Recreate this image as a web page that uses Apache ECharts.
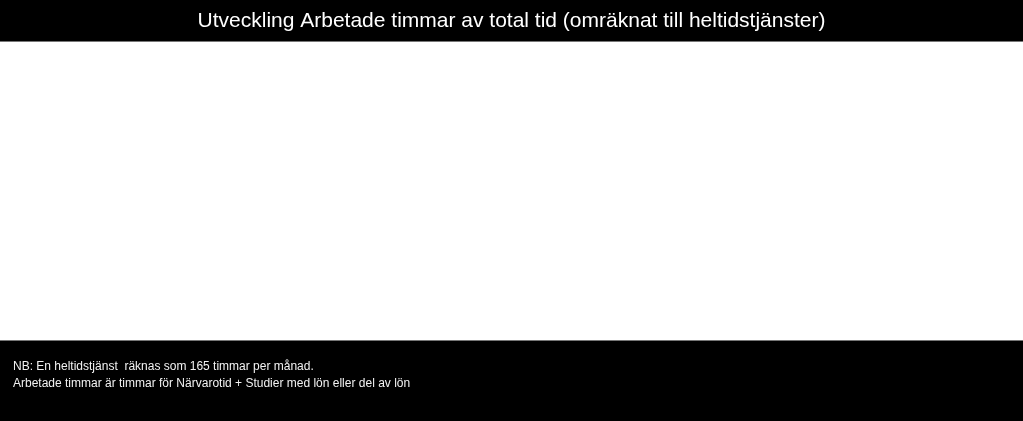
<!DOCTYPE html>
<html>
<head>
<meta charset="utf-8">
<script src="https://cdn.jsdelivr.net/npm/echarts@6/dist/echarts.min.js"></script>
<style>
html,body{margin:0;padding:0;background:#fff;}
#chart{width:1023px;height:421px;}
</style>
</head>
<body>
<div id="chart"></div>
<script>
// the reference shows no plotted values, only the frame and the notes
const categories=[];
const hoursValues=[];
const titleText='Utveckling Arbetade timmar av total tid (omräknat till heltidstjänster)';
const noteLines=[
  'NB: En heltidstjänst  räknas som 165 timmar per månad.',
  'Arbetade timmar är timmar för Närvarotid + Studier med lön eller del av lön'
];

const chart=echarts.init(document.getElementById('chart'));
chart.setOption({
  backgroundColor:'#fff',
  animation:false,
  title:[{
    text:titleText,
    left:'center',
    top:6,
    textStyle:{color:'#fff',fontFamily:'Liberation Sans',fontSize:21,fontWeight:'normal'}
  },{
    text:noteLines.join('\n'),
    left:8,
    top:353,
    textStyle:{color:'#f2f2f2',fontFamily:'Liberation Sans',fontSize:12,fontWeight:'normal',lineHeight:17}
  }],
  graphic:[
    {type:'rect',z:-10,shape:{x:0,y:0,width:1023,height:41},style:{fill:'#000'}},
    {type:'rect',z:-10,shape:{x:0,y:41,width:1023,height:1},style:{fill:'#777'}},
    {type:'rect',z:-10,shape:{x:0,y:340,width:1023,height:1},style:{fill:'#777'}},
    {type:'rect',z:-10,shape:{x:0,y:341,width:1023,height:80},style:{fill:'#000'}}
  ],
  grid:{left:0,right:0,top:42,bottom:81},
  xAxis:{type:'category',data:categories,show:false},
  yAxis:{type:'value',show:false},
  series:[{name:'Arbetade timmar',type:'line',data:hoursValues}]
});
</script>
</body>
</html>
